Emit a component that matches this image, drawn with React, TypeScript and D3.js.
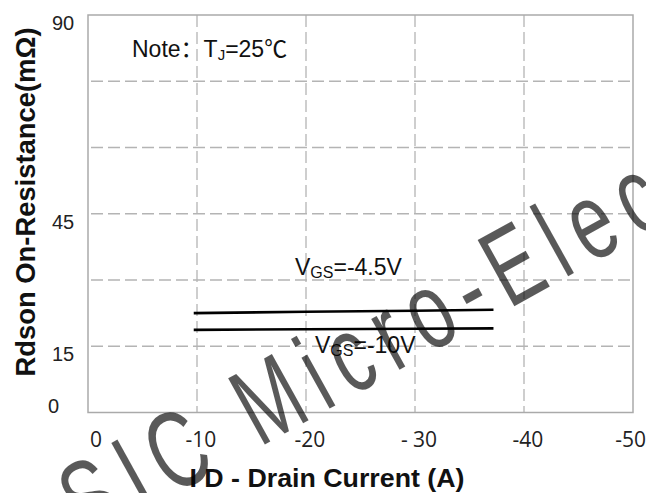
import React from "react";
import * as d3 from "d3";

const current = [-9.7, -20, -30, -37.2];
const rdsVgs45 = [22.5, 22.8, 23.05, 23.25];
const rdsVgs10 = [18.7, 18.85, 18.95, 19.05];
const xTicks = [0, -10, -20, -30, -40, -50];
const xTickLabels = ["0", "-10", "-20", "- 30", "-40", "-50"];
const yGrid = [15, 30, 45, 60, 75];
const yTickLabels = [90, 45, 15, 0];

const W = 646;
const H = 493;

export default function App() {
  const x = d3.scaleLinear().domain([0, -50]).range([88, 633]);
  const y = d3.scaleLinear().domain([0, 90]).range([412.5, 15]);
  const line = d3
    .line<number>()
    .x((_, i) => x(current[i]))
    .y((d) => y(d));

  const grid = "#b4b4b4";
  const sans = "'Liberation Sans', Arial, 'Noto Sans CJK SC', sans-serif";

  return (
    <svg
      width={W}
      height={H}
      style={{ position: "absolute", left: 0, top: 0, background: "#fff" }}
    >
      <rect x={0} y={0} width={W} height={H} fill="#fff" />
      {/* grid */}
      {xTicks.slice(1, -1).map((t) => (
        <line
          key={"vx" + t}
          x1={x(t)}
          x2={x(t)}
          y1={y(90)}
          y2={y(0)}
          stroke={grid}
          strokeWidth={1.3}
          strokeDasharray="12,5"
        />
      ))}
      {yGrid.map((t) => (
        <line
          key={"hy" + t}
          x1={x(0) + 3}
          x2={x(-50) - 3}
          y1={y(t)}
          y2={y(t)}
          stroke={grid}
          strokeWidth={1.3}
          strokeDasharray="12,5"
        />
      ))}
      {/* frame */}
      <rect
        x={x(0)}
        y={y(90)}
        width={x(-50) - x(0)}
        height={y(0) - y(90)}
        fill="none"
        stroke="#aaaaaa"
        strokeWidth={1.5}
      />
      {/* curves */}
      <path d={line(rdsVgs45) || ""} fill="none" stroke="#000" strokeWidth={2.6} />
      <path d={line(rdsVgs10) || ""} fill="none" stroke="#000" strokeWidth={2.6} />

      {/* y tick labels */}
      {yTickLabels.map((v) => (
        <text
          key={"yl" + v}
          x={v === 0 ? 48 : 52}
          y={v === 0 ? y(0) : y(v) + 15}
          fontFamily={sans}
          fontSize={20}
          fill="#222"
        >
          {v}
        </text>
      ))}
      {/* x tick labels */}
      {xTicks.map((t, i) => (
        <text
          key={"xl" + t}
          x={i === 0 ? x(t) + 2 : i === xTicks.length - 1 ? x(t) + 13 : x(t) + 4}
          y={447}
          textAnchor={i === 0 ? "start" : i === xTicks.length - 1 ? "end" : "middle"}
          fontFamily="'Open Sans', sans-serif"
          fontSize={21}
          fill="#222"
        >
          {xTickLabels[i]}
        </text>
      ))}

      {/* note */}
      <text x={132} y={57} fontFamily={sans} fontSize={23} fill="#111">
        Note：T
        <tspan fontSize={15} dy={3}>J</tspan>
        <tspan dy={-3}>=25℃</tspan>
      </text>

      {/* curve labels */}
      <text x={295} y={275} fontFamily={sans} fontSize={23} fill="#111">
        V<tspan fontSize={16} dy={3}>GS</tspan>
        <tspan dy={-3}>=-4.5V</tspan>
      </text>
      <text x={315} y={353} fontFamily={sans} fontSize={23} fill="#111">
        V<tspan fontSize={16} dy={3}>GS</tspan>
        <tspan dy={-3}>=-10V</tspan>
      </text>

      {/* axis titles */}
      <text
        x={327}
        y={487}
        textAnchor="middle"
        fontFamily={sans}
        fontWeight="bold"
        fontSize={26}
        fill="#111"
        textLength={275}
        lengthAdjust="spacingAndGlyphs"
      >
        I D - Drain Current (A)
      </text>
      <text
        transform="translate(35,202) rotate(-90)"
        textAnchor="middle"
        fontFamily={sans}
        fontWeight="bold"
        fontSize={27}
        fill="#111"
        textLength={349}
        lengthAdjust="spacingAndGlyphs"
      >
        Rdson On-Resistance(mΩ)
      </text>

      {/* watermark */}
      <text
        transform="translate(87,543) rotate(-29) scale(0.68,1)"
        fontFamily={sans}
        fontSize={110}
        letterSpacing={19}
        fill="#000"
        fillOpacity={0.65}
      >
        SIC Micro-Elec
      </text>
    </svg>
  );
}
